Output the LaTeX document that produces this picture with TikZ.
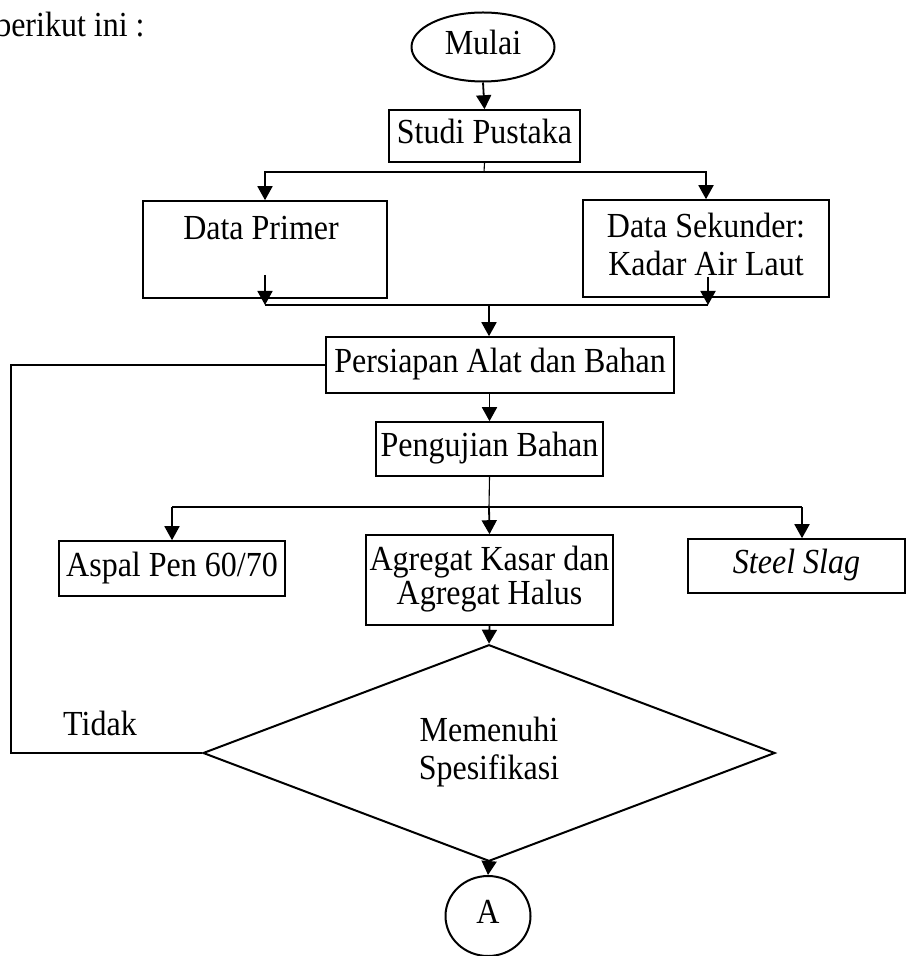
\documentclass[tikz,border=0pt]{standalone}
\usepackage{fontspec}
\setmainfont{Liberation Serif}
\usetikzlibrary{arrows.meta,shapes.geometric}
\newcommand{\vs}[1]{\raisebox{-1.5pt}{\scalebox{1}[1.1]{\begin{tabular}{@{}c@{}}#1\end{tabular}}}}
\begin{document}
\begin{tikzpicture}[x=0.5pt,y=-0.5pt,
  every node/.style={font=\fontsize{16}{17.3}\selectfont, inner sep=0pt},
  box/.style={draw, line width=0.8pt, rectangle, align=center},
  conn/.style={line width=0.9pt},
  arr/.style={line width=0.9pt, -{Triangle[length=7pt,width=7.5pt]}},
  thinline/.style={line width=0.55pt}]
\useasboundingbox (0,0) rectangle (906,956);
% intro text
\node[anchor=base east] (intro) at (145,37) {\scalebox{1}[1.1]{berikut ini :}};
% nodes
\node[draw, ellipse, line width=1pt, minimum width=71.5pt, minimum height=34.5pt] (mulai) at (483,47) {\vs{Mulai}};
\node[box, minimum width=95.5pt, minimum height=26pt] (studi) at (484.5,136) {\vs{Studi Pustaka}};
\node[box, minimum width=122pt, minimum height=48.5pt] (prim) at (265,249.5) {};
\node (primt) at (261,232) {\vs{Data Primer}};
\node[box, minimum width=123pt, minimum height=48.5pt] (sek) at (706,248.5) {\vs{Data Sekunder:\\Kadar Air Laut}};
\node[box, minimum width=174pt, minimum height=28pt] (pers) at (500,365) {\vs{Persiapan Alat dan Bahan}};
\node[box, minimum width=113.5pt, minimum height=27pt] (peng) at (489.5,449) {\vs{Pengujian Bahan}};
\node[box, minimum width=113pt, minimum height=27.5pt] (aspal) at (172,568.5) {\vs{Aspal Pen 60/70}};
\node[box, minimum width=123.5pt, minimum height=45pt] (agr) at (489.5,580) {\vs{Agregat Kasar dan\\[-1.5pt]Agregat Halus}};
\node[box, minimum width=108.5pt, minimum height=27pt] (steel) at (796.5,566) {\vs{\itshape Steel Slag}};
\node[draw, diamond, line width=1pt, minimum width=286pt, minimum height=96pt, align=center] (dia) at (489,753) {\vs{Memenuhi\\Spesifikasi}};
\node[draw, ellipse, line width=1pt, minimum width=42.5pt, minimum height=40pt] (circA) at (488,916) {\vs{A}};
\node (tidak) at (100,728) {\vs{Tidak}};
% coordinates
\coordinate (sp) at (484,172);
\coordinate (pa) at (265,275);
\coordinate (pb) at (265,305);
\coordinate (sa) at (708,277);
\coordinate (sb) at (708,305);
\coordinate (mj) at (489,305);
\coordinate (pj) at (489,507);
\coordinate (lj) at (172,507);
\coordinate (rj) at (802,507);
\coordinate (fb) at (11,753);
% connectors
\draw[arr] (mulai.south) -- (studi.north);
\draw[thinline] (studi.south) -- (sp);
\draw[arr] (sp) -| (prim.north);
\draw[arr] (sp) -| (sek.north);
\draw[arr] (pa) -- (pb);
\draw[arr] (sa) -- (sb);
\draw[conn] (pb) -- (sb);
\draw[arr] (mj) -- (mj |- pers.north);
\draw[arr] (peng.north |- pers.south) -- (peng.north);
\draw[thinline] (peng.south) -- (pj);
\draw[conn] (lj) -- (rj);
\draw[arr] (lj) -- (aspal.north);
\draw[arr] (pj) -- (agr.north);
\draw[arr] (rj) -- (rj |- steel.north);
\draw[arr] (agr.south) -- (dia.north);
\draw[arr] (dia.south) -- (circA.north);
\draw[thinline] (dia.west) -- (fb) |- (pers.west);
\end{tikzpicture}
\end{document}
